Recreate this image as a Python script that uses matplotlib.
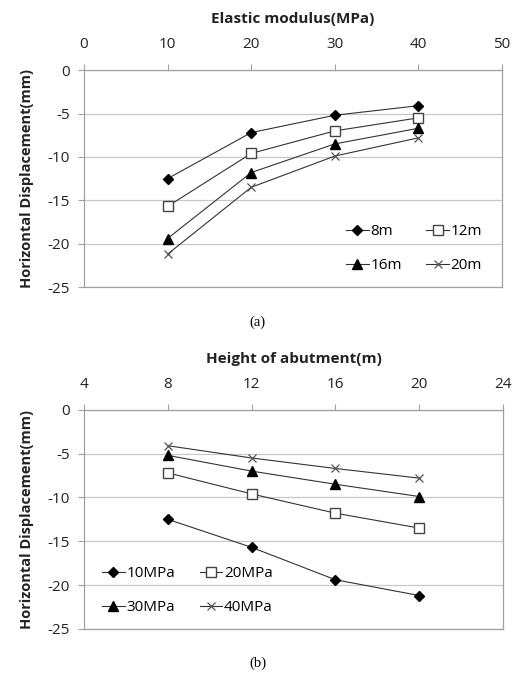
import matplotlib.pyplot as plt

plt.rcParams['font.family'] = ['Open Sans', 'DejaVu Sans']
plt.rcParams['axes.unicode_minus'] = False

# horizontal displacement (mm), one list per abutment height
modulus = [10, 20, 30, 40]
heights = [8, 12, 16, 20]
h8 = [-12.5, -7.2, -5.2, -4.1]
h12 = [-15.7, -9.6, -7.0, -5.5]
h16 = [-19.4, -11.8, -8.5, -6.7]
h20 = [-21.2, -13.5, -9.9, -7.8]

height_series = [h8, h12, h16, h20]
height_labels = ['8m', '12m', '16m', '20m']
mod_labels = ['10MPa', '20MPa', '30MPa', '40MPa']

markers = [
    dict(marker='D', markersize=5.5, markerfacecolor='black', markeredgecolor='black'),
    dict(marker='s', markersize=6.5, markerfacecolor='white', markeredgecolor='#444444'),
    dict(marker='^', markersize=7, markerfacecolor='black', markeredgecolor='black'),
    dict(marker='x', markersize=6, markeredgecolor='#555555', markeredgewidth=0.9),
]

fig = plt.figure(figsize=(5.15, 6.74), dpi=100)
ax1 = fig.add_axes([0.163, 0.574, 0.812, 0.322])
ax2 = fig.add_axes([0.163, 0.067, 0.814, 0.325])


def style(ax, xticks, xlabel):
    ax.set_ylim(-25, 0)
    ax.set_yticks([0, -5, -10, -15, -20, -25])
    ax.set_xlim(xticks[0], xticks[-1])
    ax.set_xticks(xticks)
    ax.xaxis.tick_top()
    ax.xaxis.set_label_position('top')
    ax.set_xlabel(xlabel, fontsize=11, fontweight='bold', labelpad=10, color='#222222')
    ax.set_ylabel('Horizontal Displacement(mm)', fontsize=10.5, fontweight='bold',
                  labelpad=10, color='#222222')
    ax.grid(axis='y', color='#c8c8c8', linewidth=0.9)
    ax.set_axisbelow(True)
    for s in ax.spines.values():
        s.set_color('#a0a0a0')
        s.set_linewidth(0.9)
    ax.tick_params(axis='both', colors='#a0a0a0', labelcolor='#222222',
                   labelsize=11, length=4, width=0.8)
    ax.tick_params(axis='x', pad=9)
    ax.tick_params(axis='y', pad=6)


def legend(ax, loc, anchor):
    h, l = ax.get_legend_handles_labels()
    order = [0, 2, 1, 3]
    ax.legend([h[i] for i in order], [l[i] for i in order], ncol=2, loc=loc,
              frameon=False, fontsize=11, handlelength=1.5, handletextpad=0.1,
              columnspacing=1.6, labelspacing=1.25, bbox_to_anchor=anchor)


style(ax1, [0, 10, 20, 30, 40, 50], 'Elastic modulus(MPa)')
for ys, lab, m in zip(height_series, height_labels, markers):
    ax1.plot(modulus, ys, color='#333333', linewidth=0.8, label=lab, **m)
legend(ax1, 'lower right', (0.985, 0.0))

style(ax2, [4, 8, 12, 16, 20, 24], 'Height of abutment(m)')
for j, (lab, m) in enumerate(zip(mod_labels, markers)):
    ys = [s[j] for s in height_series]
    ax2.plot(heights, ys, color='#333333', linewidth=0.8, label=lab, **m)
legend(ax2, 'lower left', (0.01, 0.0))

fig.text(0.5, 1 - 322 / 674, '(a)', ha='center', va='center', fontsize=10.5,
         family='Liberation Serif')
fig.text(0.5, 1 - 663 / 674, '(b)', ha='center', va='center', fontsize=10.5,
         family='Liberation Serif')

fig.savefig('out.png', dpi=100)
